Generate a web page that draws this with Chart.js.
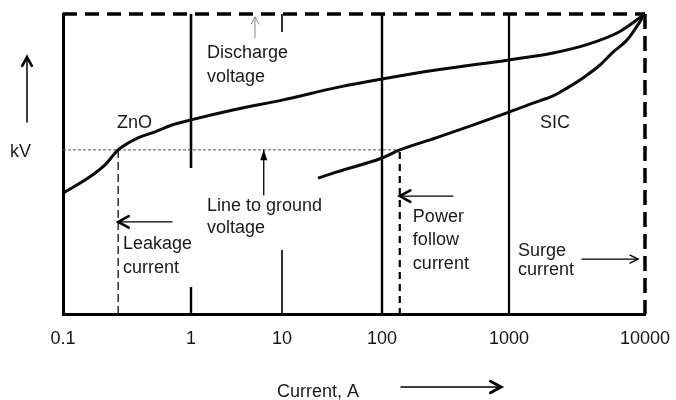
<!DOCTYPE html>
<html>
<head>
<meta charset="utf-8">
<script src="https://cdn.jsdelivr.net/npm/chart.js@4/dist/chart.umd.min.js"></script>
<style>
  html, body { margin: 0; padding: 0; background: #fff; }
  canvas { display: block; }
</style>
</head>
<body>
<canvas id="chart" width="676" height="400"></canvas>
<script>
// Current decades on the horizontal axis (A) and their printed labels
const decades = [0.1, 1, 10, 100, 1000, 10000];
const tickLabels = ['0.1', '1', '10', '100', '1000', '10000'];

// ZnO arrester characteristic: current (A) -> voltage (relative kV, 0..100)
const znoCurrent = [0.1, 0.157, 0.213, 0.27, 0.385, 0.523, 0.71, 1, 2.89, 10, 38, 100, 266, 1000, 2107, 3683, 6440, 10000];
const znoVoltage = [40.3, 45.3, 49.7, 54.7, 58.7, 60.7, 63, 64.7, 68, 71.3, 75.7, 78.3, 81.3, 84.7, 87, 89.7, 94, 100];

// SiC arrester characteristic
const sicCurrent = [22.9, 34.7, 100, 138, 266, 1000, 1500, 2107, 2670, 3500, 4670, 5820, 7375, 10000];
const sicVoltage = [45.3, 47.3, 52, 54.7, 58.7, 67.3, 70.3, 72.7, 75.3, 78.7, 83, 87.3, 91.3, 100];

// Reference levels
const lineToGroundKV = 54.7;
const leakageCurrentA = 0.27;
const powerFollowCurrentA = 138;
const dischargeLevelKV = 100;
const surgeCurrentA = 10000;

// Vertical decade markers: [current A, from kV, to kV, line width]
const decadeMarks = [
  [1, 100, 48.7, 2.6],
  [1, 9, 0, 2.4],
  [10, 100, 94, 1.6],
  [10, 21.3, 0, 1.6],
  [100, 100, 0, 2.4],
  [1000, 100, 0, 2.2]
];

// Relative widths of each decade along the hand-drawn current axis
const decadeSpan = [128, 91, 100, 127, 136];

const FONT = "'Liberation Sans', Arial, Helvetica, sans-serif";
Chart.defaults.font.family = FONT;
Chart.defaults.color = '#151515';

function zip(xs, ys) { return xs.map((x, i) => ({ x: x, y: ys[i] })); }

function segment(points, style) {
  return Object.assign({
    data: points,
    borderColor: '#000',
    borderWidth: 2,
    pointRadius: 0,
    fill: false,
    tension: 0,
    clip: false
  }, style);
}

const datasets = [
  segment(zip(znoCurrent, znoVoltage), { label: 'ZnO', borderWidth: 3, cubicInterpolationMode: 'monotone', borderColor: '#0a0a0a' }),
  segment(zip(sicCurrent, sicVoltage), { label: 'SiC', borderWidth: 3, cubicInterpolationMode: 'monotone', borderColor: '#0a0a0a' }),
  // line-to-ground voltage level
  segment([{ x: decades[0], y: lineToGroundKV }, { x: powerFollowCurrentA, y: lineToGroundKV }],
    { borderWidth: 1, borderColor: '#555', borderDash: [3, 2] }),
  // leakage current
  segment([{ x: leakageCurrentA, y: lineToGroundKV }, { x: leakageCurrentA, y: 0 }],
    { borderWidth: 1.4, borderColor: '#222', borderDash: [8, 4] }),
  // power follow current
  segment([{ x: powerFollowCurrentA, y: lineToGroundKV - 0.7 }, { x: powerFollowCurrentA, y: 0 }],
    { borderWidth: 2.2, borderColor: '#000', borderDash: [7, 5] }),
  // discharge voltage level (top) and surge current limit (right)
  segment([{ x: decades[0], y: dischargeLevelKV }, { x: surgeCurrentA, y: dischargeLevelKV }],
    { borderWidth: 3.5, borderDash: [14, 8] }),
  segment([{ x: surgeCurrentA, y: dischargeLevelKV }, { x: surgeCurrentA, y: 0 }],
    { borderWidth: 3.5, borderDash: [15, 7] })
];
decadeMarks.forEach(m => {
  datasets.push(segment([{ x: m[0], y: m[1] }, { x: m[0], y: m[2] }], { borderWidth: m[3] }));
});

// Text placed in data coordinates (current A, kV), left aligned on the baseline
const notes = [
  { text: 'Discharge', x: 1.5, y: 85.3 },
  { text: 'voltage', x: 1.5, y: 77.3 },
  { text: 'ZnO', x: 0.264, y: 62 },
  { text: 'SIC', x: 1690, y: 62 },
  { text: 'Line to ground', x: 1.5, y: 34.3 },
  { text: 'voltage', x: 1.5, y: 27 },
  { text: 'Leakage', x: 0.294, y: 21.7 },
  { text: 'current', x: 0.294, y: 13.7 },
  { text: 'Power', x: 175, y: 30.7 },
  { text: 'follow', x: 175, y: 23 },
  { text: 'current', x: 175, y: 15 },
  { text: 'Surge', x: 1164, y: 19.3 },
  { text: 'current', x: 1164, y: 13 }
];

// Pointer arrows in data coordinates
const pointers = [
  { from: [0.71, 30.7], to: [leakageCurrentA, 30.7], width: 1.3, head: 12, headWidth: 2.6, spread: 0.5 },
  { from: [362, 39.3], to: [powerFollowCurrentA, 39.3], width: 1.3, head: 12, headWidth: 2.6, spread: 0.5 },
  { from: [3440, 18.3], to: [8890, 18.3], width: 1.4, head: 9, headWidth: 1.4, spread: 0.45 },
  { from: [6.3, 39.7], to: [6.3, lineToGroundKV], width: 1.3, head: 11, solid: true, spread: 0.33 },
  { from: [5.05, 92], to: [5.05, 99], width: 1, head: 8, headWidth: 1, spread: 0.5, color: '#8a8a8a' }
];

function drawArrow(ctx, x1, y1, x2, y2, o) {
  const color = o.color || '#000';
  ctx.save();
  ctx.strokeStyle = color;
  ctx.fillStyle = color;
  ctx.lineWidth = o.width;
  ctx.lineCap = 'round';
  ctx.beginPath();
  ctx.moveTo(x1, y1);
  ctx.lineTo(x2, y2);
  ctx.stroke();
  const a = Math.atan2(y2 - y1, x2 - x1);
  const L = o.head, s = o.spread;
  const ax = x2 - L * Math.cos(a - s), ay = y2 - L * Math.sin(a - s);
  const bx = x2 - L * Math.cos(a + s), by = y2 - L * Math.sin(a + s);
  ctx.beginPath();
  if (o.solid) {
    ctx.moveTo(x2, y2); ctx.lineTo(ax, ay); ctx.lineTo(bx, by); ctx.closePath(); ctx.fill();
  } else {
    ctx.lineWidth = o.headWidth;
    ctx.lineJoin = 'miter';
    ctx.moveTo(ax, ay); ctx.lineTo(x2, y2); ctx.lineTo(bx, by); ctx.stroke();
  }
  ctx.restore();
}

const annotations = {
  id: 'annotations',
  afterDatasetsDraw(chart) {
    const ctx = chart.ctx, xs = chart.scales.x, ys = chart.scales.y, area = chart.chartArea;
    ctx.save();
    ctx.font = '18px ' + FONT;
    ctx.fillStyle = '#1a1a1a';
    ctx.textAlign = 'left';
    ctx.textBaseline = 'alphabetic';
    notes.forEach(n => ctx.fillText(n.text, xs.getPixelForValue(n.x), ys.getPixelForValue(n.y)));
    pointers.forEach(p => drawArrow(ctx,
      xs.getPixelForValue(p.from[0]), ys.getPixelForValue(p.from[1]),
      xs.getPixelForValue(p.to[0]), ys.getPixelForValue(p.to[1]), p));

    // vertical axis title with its arrow
    ctx.fillText('kV', area.left - 53, area.top + 143);
    drawArrow(ctx, area.left - 36, area.top + 108, area.left - 36, area.top + 43,
      { width: 1.5, head: 10, headWidth: 2.6, spread: 0.5 });

    // horizontal axis title with its arrow
    ctx.fillText('Current, A', area.left + 214, area.bottom + 83);
    drawArrow(ctx, area.left + 338, area.bottom + 73, area.left + 438, area.bottom + 73,
      { width: 1.5, head: 12, headWidth: 3, spread: 0.5 });
    ctx.restore();
  }
};

// cumulative fraction of the axis length at the start of each decade
const spanTotal = decadeSpan.reduce((a, b) => a + b, 0);
const spanStart = decadeSpan.map((_, i) => decadeSpan.slice(0, i).reduce((a, b) => a + b, 0) / spanTotal);

new Chart(document.getElementById('chart'), {
  type: 'line',
  data: { datasets: datasets },
  options: {
    responsive: false,
    animation: false,
    devicePixelRatio: 1,
    layout: { padding: { left: 0, top: 14, right: 31, bottom: 0 } },
    plugins: { legend: { display: false }, tooltip: { enabled: false } },
    events: [],
    scales: {
      x: {
        type: 'logarithmic',
        min: decades[0],
        max: decades[decades.length - 1],
        afterBuildTicks(scale) {
          scale.ticks = decades.map(v => ({ value: v }));
          // place each decade according to its drawn width
          scale.getPixelForValue = function (value) {
            if (value === null || value === undefined || isNaN(value) || value <= 0) return NaN;
            const d = Math.log10(value) - Math.log10(this.min);
            const i = Math.min(Math.max(Math.floor(d), 0), decadeSpan.length - 1);
            const frac = spanStart[i] + (d - i) * decadeSpan[i] / spanTotal;
            return this.getPixelForDecimal(frac);
          };
        },
        afterFit(scale) {
          scale.height = 86;
          scale.paddingLeft = 0;
          scale.paddingRight = 0;
        },
        ticks: {
          autoSkip: false,
          maxRotation: 0,
          minRotation: 0,
          padding: 14,
          color: '#151515',
          font: { size: 18, family: FONT },
          callback: (v, i) => tickLabels[i]
        },
        grid: { display: false, drawTicks: false },
        border: { display: true, color: '#000', width: 3 }
      },
      y: {
        type: 'linear',
        min: 0,
        max: 100,
        afterFit(scale) { scale.width = 63; },
        ticks: { display: false },
        grid: { display: false, drawTicks: false },
        border: { display: true, color: '#000', width: 3 }
      }
    }
  },
  plugins: [annotations]
});
</script>
</body>
</html>
